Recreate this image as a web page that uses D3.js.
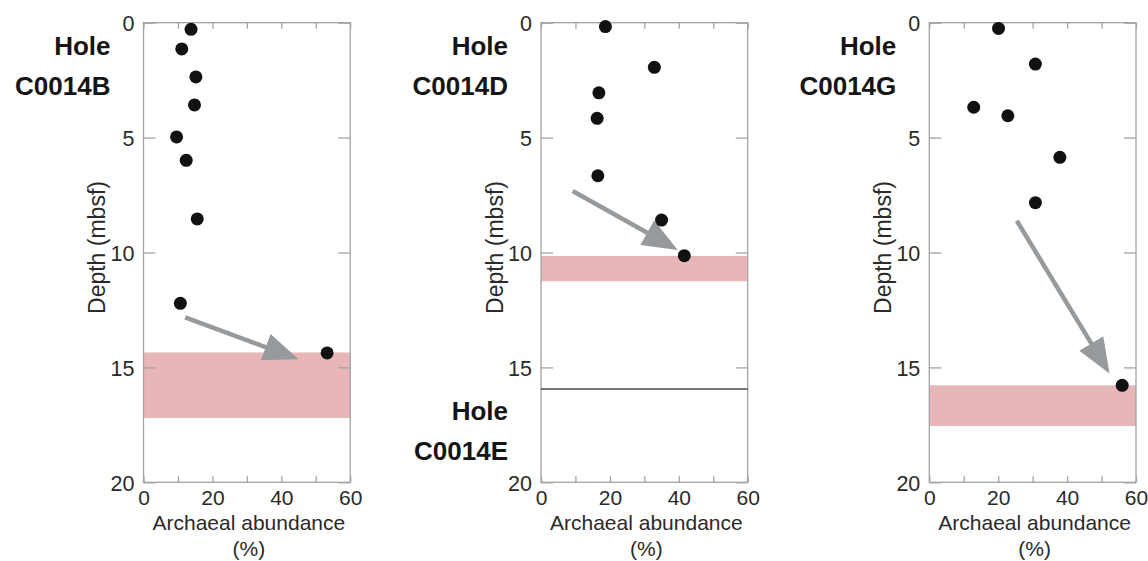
<!DOCTYPE html>
<html>
<head>
<meta charset="utf-8">
<script src="https://cdn.jsdelivr.net/npm/d3@7"></script>
<style>
  html, body { margin: 0; padding: 0; background: #fff; }
  svg { display: block; font-family: "Liberation Sans", Arial, Helvetica, sans-serif; }
</style>
</head>
<body>
<svg id="chart" width="1148" height="561"></svg>
<script>
// Archaeal abundance (%) versus depth (mbsf) for holes at Site C0014
const holeNames = ["C0014B", "C0014D", "C0014G"];

const abundanceB = [13.8, 11.1, 15.2, 14.8, 9.6, 12.4, 15.6, 10.7, 53.3];
const depthB     = [0.29, 1.14, 2.36, 3.58, 4.97, 5.99, 8.54, 12.21, 14.37];

const abundanceD = [18.7, 32.9, 16.8, 16.3, 16.5, 35.0, 41.6];
const depthD     = [0.17, 1.94, 3.05, 4.16, 6.66, 8.59, 10.14];

const abundanceG = [20.1, 30.8, 12.9, 22.8, 37.9, 30.8, 56.0];
const depthG     = [0.25, 1.80, 3.68, 4.05, 5.86, 7.83, 15.78];

// shaded depth interval in each hole [top, bottom]
const bandB = [14.35, 17.2];
const bandD = [10.15, 11.25];
const bandG = [15.78, 17.55];

// trend arrows: [abundance0, depth0, abundance1, depth1]
const arrowB = [12.1, 12.82, 45.0, 14.65];
const arrowD = [9.2, 7.32, 39.7, 9.89];
const arrowG = [25.4, 8.62, 52.3, 15.26];

// boundary between Hole C0014D and Hole C0014E
const boundaryD = 15.94;

const xTicks = [0, 10, 20, 30, 40, 50, 60];
const xTickLabels = [0, 20, 40, 60];
const yTicks = [0, 5, 10, 15, 20];

const panels = [
  { name: holeNames[0], x: abundanceB, y: depthB, band: bandB, arrow: arrowB, left: 143.5 },
  { name: holeNames[1], x: abundanceD, y: depthD, band: bandD, arrow: arrowD, left: 541, boundary: boundaryD, lowerName: "C0014E" },
  { name: holeNames[2], x: abundanceG, y: depthG, band: bandG, arrow: arrowG, left: 929.3 }
];

const svg = d3.select("#chart");
const plotW = 206.7, plotTop = 22.7, plotBottom = 482.3;
const axisColor = "#a3a3a3";
const textColor = "#2a2a2a";
const labelSize = 26;

panels.forEach(p => {
  const x = d3.scaleLinear().domain([0, 60]).range([p.left, p.left + plotW]);
  const y = d3.scaleLinear().domain([0, 20]).range([plotTop, plotBottom]);
  const g = svg.append("g");

  // shaded interval
  g.append("rect")
    .attr("x", x(0)).attr("width", x(60) - x(0))
    .attr("y", y(p.band[0])).attr("height", y(p.band[1]) - y(p.band[0]))
    .attr("fill", "#e8b6b9");

  // frame
  g.append("rect")
    .attr("x", x(0)).attr("y", y(0))
    .attr("width", x(60) - x(0)).attr("height", y(20) - y(0))
    .attr("fill", "none").attr("stroke", axisColor).attr("stroke-width", 1.3);

  // inward ticks on all four sides
  const axes = [
    d3.axisBottom(x).tickValues(xTicks).tickSize(-6).tickFormat(""),
    d3.axisTop(x).tickValues(xTicks).tickSize(-6).tickFormat(""),
    d3.axisLeft(y).tickValues(yTicks).tickSize(-12).tickFormat(""),
    d3.axisRight(y).tickValues(yTicks).tickSize(-12).tickFormat("")
  ];
  const shifts = [[0, plotBottom], [0, plotTop], [x(0), 0], [x(60), 0]];
  axes.forEach((a, i) => {
    const ag = g.append("g").attr("transform", `translate(${shifts[i][0]},${shifts[i][1]})`).call(a);
    ag.select(".domain").remove();
    ag.selectAll("line").attr("stroke", axisColor).attr("stroke-width", 1.3);
  });

  // tick labels
  const xl = g.append("g").attr("transform", `translate(0,${plotBottom})`)
    .call(d3.axisBottom(x).tickValues(xTickLabels).tickSize(0).tickPadding(0));
  xl.select(".domain").remove();
  xl.selectAll("text").attr("y", 22.5).attr("dy", null)
    .attr("font-size", 21).attr("fill", textColor).attr("font-family", null);

  const yl = g.append("g").attr("transform", `translate(${x(0)},0)`)
    .call(d3.axisLeft(y).tickValues(yTicks).tickSize(0).tickPadding(9));
  yl.select(".domain").remove();
  yl.selectAll("text").attr("dy", "0.36em")
    .attr("font-size", 21.5).attr("fill", textColor).attr("font-family", null);

  // axis titles
  const cx = (x(0) + x(60)) / 2;
  g.append("text").attr("x", cx + 2).attr("y", 530).attr("text-anchor", "middle")
    .attr("font-size", 21).attr("fill", textColor).text("Archaeal abundance");
  g.append("text").attr("x", cx + 2).attr("y", 556).attr("text-anchor", "middle")
    .attr("font-size", 21).attr("fill", textColor).text("(%)");
  g.append("text")
    .attr("transform", `translate(${x(0) - 38.5},${(plotTop + plotBottom) / 2 - 5}) rotate(-90)`)
    .attr("text-anchor", "middle").attr("font-size", 23).attr("fill", textColor)
    .text("Depth (mbsf)");

  // hole labels
  const lx = x(0) - 33;
  g.append("text").attr("x", lx).attr("y", 55).attr("text-anchor", "end")
    .attr("font-size", labelSize).attr("font-weight", "bold").attr("fill", "#151515").text("Hole");
  g.append("text").attr("x", lx).attr("y", 95).attr("text-anchor", "end")
    .attr("font-size", labelSize).attr("font-weight", "bold").attr("fill", "#151515").text(p.name);

  if (p.boundary !== undefined) {
    g.append("line")
      .attr("x1", x(0)).attr("x2", x(60))
      .attr("y1", y(p.boundary)).attr("y2", y(p.boundary))
      .attr("stroke", "#4a4a4a").attr("stroke-width", 1.3);
    const by = y(p.boundary);
    g.append("text").attr("x", lx).attr("y", by + 31).attr("text-anchor", "end")
      .attr("font-size", labelSize).attr("font-weight", "bold").attr("fill", "#151515").text("Hole");
    g.append("text").attr("x", lx).attr("y", by + 71).attr("text-anchor", "end")
      .attr("font-size", labelSize).attr("font-weight", "bold").attr("fill", "#151515").text(p.lowerName);
  }

  // trend arrow
  const [a0, d0, a1, d1] = p.arrow;
  const x0 = x(a0), y0 = y(d0), x1 = x(a1), y1 = y(d1);
  const len = Math.hypot(x1 - x0, y1 - y0);
  const ux = (x1 - x0) / len, uy = (y1 - y0) / len;
  const headLen = 35, headHalf = 14;
  const bx = x1 - ux * headLen, by2 = y1 - uy * headLen;
  const arrowColor = "#979a9c";
  g.append("line")
    .attr("x1", x0).attr("y1", y0)
    .attr("x2", bx + ux * 2).attr("y2", by2 + uy * 2)
    .attr("stroke", arrowColor).attr("stroke-width", 4.5);
  g.append("path")
    .attr("d", d3.line()([
      [x1, y1],
      [bx - uy * headHalf, by2 + ux * headHalf],
      [bx + uy * headHalf, by2 - ux * headHalf]
    ]) + "Z")
    .attr("fill", arrowColor);

  // samples
  g.selectAll("circle.pt").data(p.x.map((v, i) => [v, p.y[i]])).join("circle")
    .attr("class", "pt")
    .attr("cx", d => x(d[0])).attr("cy", d => y(d[1]))
    .attr("r", 6.5).attr("fill", "#111");
});
</script>
</body>
</html>
